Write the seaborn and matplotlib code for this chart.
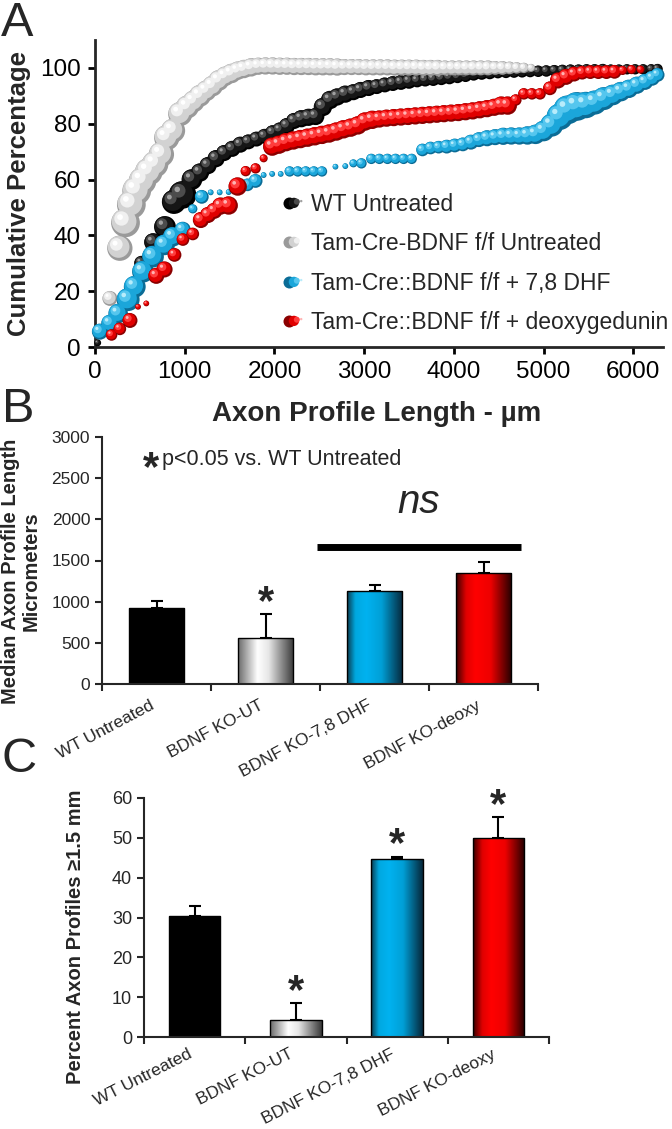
import numpy as np
import matplotlib
matplotlib.use('Agg')
import matplotlib.pyplot as plt
import seaborn as sns
from matplotlib.path import Path
from matplotlib.markers import MarkerStyle
from matplotlib.lines import Line2D
from matplotlib.legend_handler import HandlerTuple
from matplotlib.colors import LinearSegmentedColormap

sns.set_style('ticks')
plt.rcParams['font.family'] = ['Liberation Sans', 'DejaVu Sans']

# ---------------- panel A: cumulative distributions ----------------
series_labels = ['WT Untreated', 'Tam-Cre-BDNF f/f Untreated',
                 'Tam-Cre::BDNF f/f + 7,8 DHF', 'Tam-Cre::BDNF f/f + deoxygedunin']

wt_x = [30, 520, 650, 780, 880, 975, 1080, 1170, 1260, 1350, 1440, 1530,
        1620, 1710, 1800, 1890, 1980, 2060, 2140, 2220, 2300, 2380, 2460, 2540,
        2620, 2700, 2790, 2880, 2960, 3050, 3140, 3230, 3320, 3410, 3500, 3590,
        3680, 3770, 3860, 3950, 4040, 4130, 4220, 4310, 4400, 4490, 4580, 4670,
        4760, 4850, 4940, 5030, 5120, 5210, 5300, 5390, 5480, 5570, 5660, 5750,
        5840, 5930, 6020, 6110, 6200, 6270]
wt_y = [1.5, 30, 37.5, 43, 52, 54.5, 60, 62.5, 65, 67.5, 69.5, 71,
        72.5, 73.5, 74.5, 75.5, 76.8, 77.8, 79.2, 81, 81.8, 82.3, 82.6, 86,
        88.5, 89.6, 90.6, 91.3, 92.1, 92.8, 93.3, 93.9, 94.4, 94.8, 95.2, 95.5,
        95.8, 96, 96.3, 96.6, 96.8, 97.2, 97.7, 98, 98.2, 98.3, 98.4, 98.5,
        98.6, 98.7, 98.8, 98.9, 99, 99.1, 99.2, 99.2, 99.3, 99.3, 99.4, 99.4,
        99.4, 99.5, 99.5, 99.5, 99.5, 99.6]
wt_d = [6, 13, 16, 19, 21, 24, 18, 16, 15, 15, 14, 14,
        14, 13, 13, 13, 13, 13, 14, 14, 15, 15, 15, 16,
        16, 15, 15, 14, 14, 14, 13, 13, 13, 13, 13, 12,
        12, 12, 12, 12, 11, 11, 11, 11, 11, 10, 10, 10,
        10, 10, 10, 10, 10, 10, 10, 10, 10, 10, 10, 9,
        9, 9, 9, 9, 9, 9]

ko_x = [166, 277, 340, 405, 465, 530, 600, 670, 740, 800, 870, 950,
        1030, 1100, 1170, 1240, 1310, 1380, 1450, 1520, 1590, 1660, 1740, 1820,
        1900, 1980, 2060, 2140, 2220, 2300, 2380, 2460, 2540, 2620, 2700, 2780,
        2860, 2940, 3020, 3100, 3180, 3260, 3340, 3420, 3500, 3580, 3660, 3740,
        3820, 3900, 3980, 4060, 4140, 4220, 4300, 4380, 4460, 4540, 4620, 4700,
        4780, 4860]
ko_y = [17.4, 35.4, 44.5, 51, 56, 59.5, 62.8, 65.5, 69, 75, 77.5, 83.5,
        86, 88, 90, 91.8, 93.5, 95.5, 97, 98, 99, 99.6, 100.2, 100.6,
        100.7, 100.7, 100.6, 100.6, 100.5, 100.5, 100.5, 100.4, 100.4, 100.4, 100.3, 100.3,
        100.3, 100.3, 100.2, 100.2, 100.2, 100.2, 100.1, 100.1, 100.1, 100.1, 100, 100,
        100, 100, 100, 100, 100, 100, 100, 100, 100, 100, 100, 100,
        100, 100]
ko_d = [13, 22, 25, 25, 25, 24, 24, 23, 22, 22, 21, 21,
        20, 19, 19, 18, 18, 18, 17, 17, 16, 16, 16, 15,
        15, 15, 15, 15, 15, 15, 15, 15, 15, 15, 15, 14,
        14, 14, 14, 14, 14, 14, 14, 14, 14, 14, 14, 14,
        14, 13, 13, 13, 13, 13, 13, 13, 12, 12, 11, 10,
        9, 7]

dhf_x = [55, 166, 258, 369, 443, 535, 646, 775, 867, 978, 1090, 1190,
         1290, 1390, 1490, 1600, 1700, 1790, 1880, 1975, 2070, 2170, 2260, 2350,
         2440, 2530, 2680, 2790, 2880, 2970, 3080, 3170, 3260, 3350, 3440, 3530,
         3650, 3740, 3830, 3920, 4010, 4100, 4190, 4280, 4370, 4460, 4550, 4640,
         4730, 4820, 4910, 5000, 5090, 5180, 5270, 5370, 5470, 5570, 5670, 5770,
         5860, 5950, 6040, 6130, 6210, 6270]
dhf_y = [5.5, 8.5, 12, 17, 21.6, 27, 32.4, 36.6, 39.5, 42, 49.5, 53.8,
         55.4, 55.4, 55.5, 56, 58.1, 59.5, 61.6, 62, 62, 62.9, 62.9, 62.9,
         62.9, 62.9, 64.6, 64.8, 65.8, 65.8, 67.4, 67.4, 67.4, 67.4, 67.4, 67.4,
         70.6, 71.3, 71.6, 71.8, 72.2, 72.6, 73.4, 74.3, 74.8, 75.2, 75.5, 75.6,
         75.6, 75.8, 76.2, 77.4, 79.5, 82.5, 85, 86.2, 86.7, 87.6, 89, 90.3,
         91.5, 92.5, 93.8, 95, 96.3, 97.5]
dhf_d = [14, 15, 17, 20, 19, 19, 19, 18, 17, 14, 8, 12,
         5, 5, 5, 7, 11, 12, 5, 5, 5, 9, 9, 9,
         9, 9, 5, 5, 7, 9, 9, 9, 9, 9, 9, 9,
         11, 11, 11, 12, 12, 12, 13, 13, 14, 14, 15, 15,
         15, 16, 17, 18, 20, 23, 25, 25, 23, 21, 20, 18,
         17, 16, 15, 14, 13, 12]

deoxy_x = [185, 277, 390, 480, 572, 683, 775, 886, 980, 1090, 1180, 1260,
           1330, 1400, 1490, 1590, 1680, 1790, 1880, 1975, 2050, 2130, 2210, 2290,
           2370, 2450, 2530, 2610, 2690, 2770, 2850, 2930, 3010, 3090, 3170, 3250,
           3330, 3410, 3490, 3570, 3650, 3730, 3810, 3890, 3970, 4050, 4130, 4210,
           4290, 4370, 4450, 4530, 4600, 4690, 4780, 4870, 4960, 5070, 5160, 5250,
           5340, 5430, 5520, 5610, 5700, 5790, 5880, 5980, 6080]
deoxy_y = [4.3, 6.5, 9.5, 14.4, 15.6, 25.5, 27.8, 33, 38.5, 40.5, 45.5, 47.3,
           48.8, 50.5, 50.7, 57.5, 63, 64, 67.6, 71.8, 72.5, 73.4, 74, 74.5,
           75, 75.5, 76, 76.5, 77.2, 78, 78.6, 79.4, 80.8, 81.4, 81.7, 82,
           82.2, 82.4, 82.6, 82.8, 83, 83.2, 83.4, 83.6, 83.8, 84, 84.3, 84.6,
           85, 85.4, 85.9, 86.5, 86.5, 88.5, 90.7, 90.7, 90.7, 92.7, 95.5, 96.8,
           97.8, 98.3, 98.5, 98.5, 98.5, 98.6, 99.1, 99.4, 99.4]
deoxy_d = [10, 11, 13, 5, 5, 14, 14, 12, 11, 11, 14, 14,
           14, 15, 16, 16, 9, 9, 7, 16, 16, 16, 16, 16,
           16, 16, 16, 16, 16, 16, 16, 16, 16, 16, 15, 15,
           15, 15, 15, 15, 15, 15, 15, 15, 15, 15, 15, 15,
           15, 15, 15, 16, 16, 10, 10, 10, 10, 12, 14, 14,
           13, 12, 12, 12, 12, 12, 8, 8, 7]

# ---------------- panels B and C: bar charts ----------------
groups = ['WT Untreated', 'BDNF KO-UT', 'BDNF KO-7,8 DHF', 'BDNF KO-deoxy']
median_len = [922, 560, 1130, 1350]
median_err = [90, 290, 70, 130]
median_sig = [False, True, False, False]
pct_long = [30.5, 4.2, 44.7, 50.0]
pct_err = [2.5, 4.3, 0.6, 5.3]
pct_sig = [False, True, True, True]

# sphere shading: dark rim, body, light, highlight
ball_colors = [
    ['#000000', '#161616', '#4c4c4c', '#a0a0a0'],
    ['#9a9a9a', '#d2d2d2', '#f0f0f0', '#ffffff'],
    ['#0b6c96', '#1ba6da', '#55c6ee', '#b8ecfb'],
    ['#8a0000', '#e00000', '#ff3c3c', '#ffb4b4'],
]
ball_scale = 1.15


def ball_markers():
    specs = [((0, 0), 1.0), ((-0.1, 0.1), 0.86), ((-0.28, 0.3), 0.5), ((-0.38, 0.4), 0.2)]
    out = []
    for (cx, cy), r in specs:
        c = Path.circle((cx, cy), r)
        verts = np.vstack([[[-1, -1], [1, 1]], c.vertices])
        codes = np.concatenate([[Path.MOVETO, Path.MOVETO], c.codes])
        out.append(MarkerStyle(Path(verts, codes)))
    return out


balls = ball_markers()
px2pt = 72 / 100

fig = plt.figure(figsize=(6.72, 11.29), dpi=100)
W, H = 672, 1129

# ---- A ----
axA = fig.add_axes([95 / W, 1 - 347 / H, 568 / W, 307 / H])
curves = [(wt_x, wt_y, wt_d), (ko_x, ko_y, ko_d), (dhf_x, dhf_y, dhf_d), (deoxy_x, deoxy_y, deoxy_d)]
for k, (xs, ys, ds) in enumerate(curves):
    s = (np.array(ds) * ball_scale * px2pt) ** 2
    for j, (m, c) in enumerate(zip(balls, ball_colors[k])):
        sns.scatterplot(x=xs, y=ys, s=s, marker=m, color=c, linewidth=0,
                        edgecolor='none', ax=axA, legend=False, clip_on=False,
                        zorder=3 + k + j * 0.1)

axA.set_xlim(0, 6330)
axA.set_ylim(0, 110)
axA.set_xticks(range(0, 6001, 1000))
axA.set_yticks(range(0, 101, 20))
sns.despine(ax=axA)
for sp in ['left', 'bottom']:
    axA.spines[sp].set_linewidth(2)
axA.tick_params(length=5, width=2, labelsize=17.5, pad=5, colors='black')
axA.set_xlabel('Axon Profile Length - µm', fontsize=20, fontweight='bold', va='center')
axA.xaxis.set_label_coords(0.496, -0.218)
axA.set_ylabel('Cumulative Percentage', fontsize=18.5, fontweight='bold', va='center')
axA.yaxis.set_label_coords(-0.134, 0.5)

handles = []
for k in range(4):
    handles.append(tuple(Line2D([], [], linestyle='none', marker=m, markersize=12 * px2pt,
                                markerfacecolor=c, markeredgewidth=0)
                         for m, c in zip(balls, ball_colors[k])))
axA.legend(handles, series_labels, handler_map={tuple: HandlerTuple(ndivide=None, pad=0)},
           loc='upper left', bbox_to_anchor=(287 / W, 1 - 193 / H), bbox_transform=fig.transFigure,
           frameon=False, fontsize=16.5, handlelength=0.8, handletextpad=0.25,
           labelspacing=0.72, borderpad=0, borderaxespad=0)

# ---- bar helpers ----
bar_grads = [
    [(0, '#000000'), (1, '#000000')],
    [(0, '#6a6a6a'), (0.35, '#ffffff'), (0.55, '#e6e6e6'), (1, '#383838')],
    [(0, '#0b3a4e'), (0.15, '#00a8e0'), (0.35, '#00b2f0'), (0.62, '#009fd6'), (1, '#06273a')],
    [(0, '#3a0000'), (0.18, '#e00000'), (0.35, '#ff0000'), (0.62, '#ee0000'), (1, '#220000')],
]
bar_colors = ['#000000', '#d0d0d0', '#00b0f0', '#ff0000']


def bar_panel(ax, vals, errs, ylim, ystep, tick_fs, label_pad, rot):
    sns.barplot(x=groups, y=vals, hue=groups, palette=bar_colors, legend=False,
                width=0.51, edgecolor='black', linewidth=1, ax=ax)
    for patch, stops in zip(ax.patches, bar_grads):
        x0, w, h = patch.get_x(), patch.get_width(), patch.get_height()
        cmap = LinearSegmentedColormap.from_list('g', stops)
        im = ax.imshow(np.linspace(0, 1, 256)[None, :], cmap=cmap, extent=[x0, x0 + w, 0, h],
                       aspect='auto', interpolation='bicubic', zorder=1.5)
        im.set_clip_path(patch)
        patch.set_facecolor('none')
        patch.set_zorder(2)
    pos = np.arange(len(groups))
    ax.errorbar(pos, vals, yerr=[np.zeros(len(vals)), errs], fmt='none', ecolor='black',
                elinewidth=1.5, capsize=4.5, capthick=1.5, zorder=1.2)
    ax.set_xlim(-0.5, len(groups) - 0.5)
    ax.set_ylim(*ylim)
    ax.set_yticks(np.arange(ylim[0], ylim[1] + 1, ystep))
    ax.set_xticks(pos)
    ax.set_xticklabels(groups, rotation=rot, ha='right')
    ax.set_xticks(np.arange(-0.5, len(groups)), minor=True)
    ax.tick_params(axis='x', which='major', length=0, pad=label_pad, labelsize=12.5)
    ax.tick_params(axis='x', which='minor', length=5, width=1.5, direction='out')
    ax.tick_params(axis='y', length=5, width=1.5, labelsize=tick_fs)
    ax.set_xlabel('')
    sns.despine(ax=ax)
    for sp in ['left', 'bottom']:
        ax.spines[sp].set_linewidth(1.5)


def stars(ax, vals, errs, sig):
    for i, (v, e, flag) in enumerate(zip(vals, errs, sig)):
        if flag:
            ax.annotate('*', xy=(i, v + e), xytext=(0, 0), textcoords='offset points',
                        ha='center', va='baseline', fontsize=30, fontweight='bold')


# ---- B ----
axB = fig.add_axes([102 / W, 1 - 684 / H, 436 / W, 247 / H])
bar_panel(axB, median_len, median_err, (0, 3000), 500, 12.5, 10, 28)
stars(axB, median_len, median_err, median_sig)
axB.set_ylabel('Median Axon Profile Length\nMicrometers', fontsize=14.5, fontweight='bold',
               va='center', linespacing=1.1)
axB.yaxis.set_label_coords(-0.187, 0.457)
axB.text(0.112, 0.825, '*', transform=axB.transAxes, ha='center', va='baseline',
         fontsize=30, fontweight='bold')
axB.text(0.138, 0.887, 'p<0.05 vs. WT Untreated', transform=axB.transAxes,
         ha='left', va='baseline', fontsize=15.5)
ns_span = (1.47, 3.34)
ns_level = 1665
axB.plot(ns_span, [ns_level, ns_level], color='black', lw=5, solid_capstyle='butt')
axB.text(np.mean(ns_span), 2080, 'ns', ha='center', va='baseline', fontsize=29, style='italic')

# ---- C ----
axC = fig.add_axes([144 / W, 1 - 1037 / H, 405 / W, 239 / H])
bar_panel(axC, pct_long, pct_err, (0, 60), 10, 13, 7, 27)
stars(axC, pct_long, pct_err, pct_sig)
axC.set_ylabel('Percent Axon Profiles \u22651.5 mm', fontsize=14.5, fontweight='bold', va='center')
axC.yaxis.set_label_coords(-0.168, 0.418)

# panel letters
for letter, (lx, ly) in zip('ABC', [(17, 23), (18, 410), (19, 760)]):
    fig.text(lx / W, 1 - ly / H, letter, fontsize=35, ha='center', va='center')

fig.savefig('out.png', dpi=100, facecolor='white')
